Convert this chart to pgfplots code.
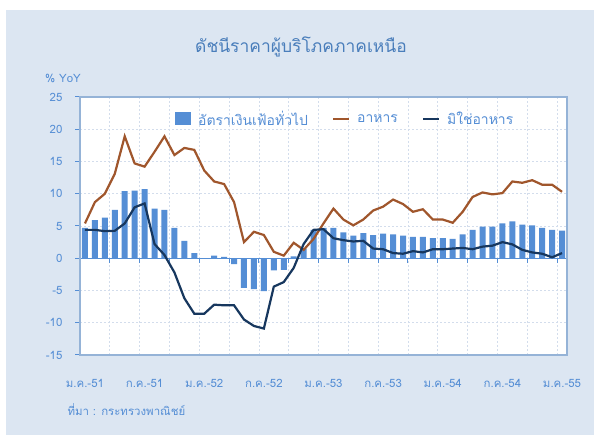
\documentclass[border=0pt]{standalone}
\usepackage{pgfplots}
\pgfplotsset{compat=1.18}
\usepackage{fontspec}
\setmainfont[Script=Thai]{Loma}

\definecolor{bgblue}{HTML}{DCE6F2}
\definecolor{barblue}{HTML}{558ED5}
\definecolor{txtblue}{HTML}{558ED5}
\definecolor{ttlblue}{HTML}{4A7EBB}
\definecolor{food}{HTML}{A0562C}
\definecolor{nonfood}{HTML}{17375E}
\definecolor{framecol}{HTML}{95B3D7}
\definecolor{gridcol}{HTML}{D3DDEC}

% month index 0 = Jan 2008 (ม.ค.-51)
\pgfplotstableread{
i cpi food nonfood
0 4.7 5.4 4.4
1 5.9 8.7 4.4
2 6.3 10.0 4.2
3 7.5 13.1 4.25
4 10.4 18.9 5.4
5 10.5 14.7 7.9
6 10.7 14.2 8.5
7 7.7 16.5 2.2
8 7.5 18.9 0.5
9 4.7 16.0 -2.2
10 2.7 17.1 -6.2
11 0.8 16.8 -8.6
12 0.0 13.6 -8.6
13 0.4 11.9 -7.2
14 0.2 11.5 -7.3
15 -0.9 8.7 -7.3
16 -4.6 2.5 -9.5
17 -4.8 4.1 -10.5
18 -5.1 3.6 -10.9
19 -1.9 1.0 -4.4
20 -1.8 0.4 -3.7
21 0.3 2.4 -1.5
22 1.5 1.3 2.2
23 4.4 3.0 4.4
24 4.7 5.4 4.5
25 4.7 7.7 3.1
26 4.0 6.0 2.8
27 3.5 5.1 2.6
28 3.9 6.0 2.7
29 3.6 7.4 1.5
30 3.8 8.0 1.4
31 3.7 9.1 0.8
32 3.5 8.4 0.7
33 3.3 7.2 1.1
34 3.3 7.6 0.9
35 3.1 6.0 1.4
36 3.1 6.0 1.4
37 3.0 5.5 1.5
38 3.7 7.2 1.6
39 4.4 9.5 1.4
40 4.9 10.2 1.8
41 4.9 9.9 1.95
42 5.4 10.1 2.5
43 5.7 11.9 2.15
44 5.2 11.7 1.3
45 5.1 12.1 0.9
46 4.7 11.4 0.7
47 4.4 11.4 0.15
48 4.3 10.3 0.8
}\cpidata

\begin{document}
\begin{tikzpicture}[x=1bp,y=1bp]
\fill[white] (0,0) rectangle (594,435);
\fill[bgblue] (6,0) rectangle (594,425);

\begin{axis}[
    at={(80bp,80bp)}, anchor=south west,
    width=487bp, height=258bp, scale only axis,
    clip=false,
    axis background/.style={fill=white},
    xmin=-0.5, xmax=48.5,
    ymin=-15, ymax=25,
    ytick={-15,-10,...,25},
    xtick={2.5,5.5,...,47.5},
    xticklabels={},
    axis x line*=middle,
    axis y line*=left,
    every inner x axis line/.append style={-, draw=barblue, line width=1.2bp},
    every outer x axis line/.append style={-, draw=barblue, line width=1.2bp},
    every outer y axis line/.append style={-, draw=barblue, line width=1.5bp},
    xtick align=outside, ytick align=outside,
    major tick length=5bp,
    tick style={draw=barblue, line width=1bp},
    grid=major,
    major grid style={gridcol, dash pattern=on 2bp off 2bp, line width=0.8bp},
    /pgf/number format/assume math mode=true,
    yticklabel style={font=\fontsize{11.5}{13}\selectfont, text=txtblue, xshift=-9bp},
    legend style={at={(0.189,0.915)}, anchor=west, draw=none, fill=none,
        legend columns=3, font=\fontsize{14}{16}\selectfont, text=txtblue,
        /tikz/every odd column/.append style={column sep=5bp},
        /tikz/every even column/.append style={column sep=22bp}},
]
\draw[framecol, line width=1.2bp] (rel axis cs:0,0) rectangle (rel axis cs:1,1);

\addplot[ybar, bar width=6bp, fill=barblue, draw=none,
    legend image code/.code={\fill[barblue] (0bp,-6bp) rectangle (16bp,7bp);}]
    table[x=i, y=cpi] {\cpidata};
\addlegendentry{อัตราเงินเฟ้อทั่วไป}

\addplot[food, line width=2.2bp, mark=none,
    legend image code/.code={\draw[food, line width=2.2bp] (0bp,0bp) -- (16bp,0bp);}]
    table[x=i, y=food] {\cpidata};
\addlegendentry{อาหาร}

\addplot[nonfood, line width=2.2bp, mark=none,
    legend image code/.code={\draw[nonfood, line width=2.2bp] (0bp,0bp) -- (16bp,0bp);}]
    table[x=i, y=nonfood] {\cpidata};
\addlegendentry{มิใช่อาหาร}

% month labels every 6 months, below the plot
\begin{scope}[every node/.style={txtblue, font=\fontsize{11.5}{13}\selectfont, yshift=-28bp}]
\node at (axis cs:0,-15) {ม.ค.-51};
\node at (axis cs:6,-15) {ก.ค.-51};
\node at (axis cs:12,-15) {ม.ค.-52};
\node at (axis cs:18,-15) {ก.ค.-52};
\node at (axis cs:24,-15) {ม.ค.-53};
\node at (axis cs:30,-15) {ก.ค.-53};
\node at (axis cs:36,-15) {ม.ค.-54};
\node at (axis cs:42,-15) {ก.ค.-54};
\node at (axis cs:48,-15) {ม.ค.-55};
\end{scope}
\end{axis}

\node[ttlblue, font=\fontsize{17.5}{20}\selectfont] at (301,388) {ดัชนีราคาผู้บริโภคภาคเหนือ};
\node[txtblue, font=\fontsize{11.5}{13}\selectfont] at (63,357) {\% YoY};
\node[txtblue, font=\fontsize{11.5}{13}\selectfont, anchor=west] at (64,25) {ที่มา : กระทรวงพาณิชย์};
\end{tikzpicture}
\end{document}
